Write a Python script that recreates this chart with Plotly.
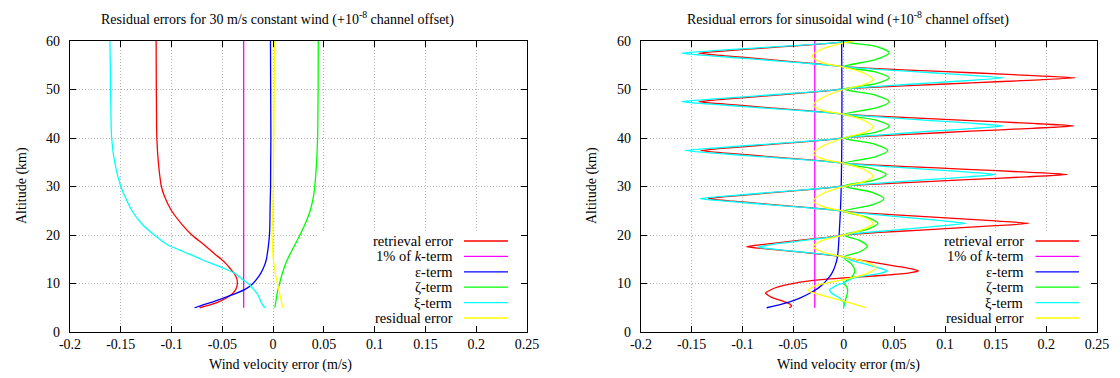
import plotly.graph_objects as go

# ---------------- tick labels ----------------
x_tickvals = [-0.2, -0.15, -0.1, -0.05, 0, 0.05, 0.1, 0.15, 0.2, 0.25]
x_ticktext = ["-0.2", "-0.15", "-0.1", "-0.05", "0", "0.05", "0.1", "0.15", "0.2", "0.25"]
y_tickvals = [0, 10, 20, 30, 40, 50, 60]
y_ticktext = ["0", "10", "20", "30", "40", "50", "60"]

series_names = ["retrieval error", "1% of <i>k</i>-term", "\u03b5-term", "\u03b6-term", "\u03be-term", "residual error"]
series_colors = ["#ff0000", "#ff00ff", "#0000ff", "#00ff00", "#00ffff", "#ffff00"]

# ---------------- left panel: 30 m/s constant wind ----------------
l_alt = [5, 6, 7, 8, 9, 10, 11, 12, 13, 14, 15, 16, 17, 18, 20, 22, 25, 28, 30, 35, 40, 45, 50, 55, 60]
l_retrieval = [-0.0724, -0.056, -0.046, -0.0395, -0.0362, -0.0352, -0.0358, -0.038, -0.042, -0.046, -0.051,
               -0.057, -0.0626, -0.068, -0.080, -0.089, -0.100, -0.107, -0.110, -0.113, -0.1145, -0.1148,
               -0.115, -0.1151, -0.1152]
l_eps = [-0.0774, -0.0626, -0.049, -0.036, -0.026, -0.0198, -0.0158, -0.0125, -0.010, -0.0080, -0.0066,
         -0.0058, -0.0051, -0.0045, -0.0036, -0.0032, -0.003, -0.0027, -0.0025, -0.0024, -0.0022, -0.0023,
         -0.0024, -0.0025, -0.0026]
l_zeta = [0.0017, 0.0025, 0.0032, 0.004, 0.0052, 0.0064, 0.0076, 0.0090, 0.0105, 0.0122, 0.0143, 0.0165,
          0.019, 0.0215, 0.0264, 0.031, 0.0365, 0.0398, 0.041, 0.0428, 0.0438, 0.0441, 0.0443, 0.0444, 0.0445]
l_xi = [-0.0082, -0.0115, -0.0135, -0.016, -0.020, -0.0247, -0.031, -0.037, -0.047, -0.059, -0.071, -0.082,
        -0.093, -0.104, -0.117, -0.128, -0.139, -0.146, -0.150, -0.156, -0.159, -0.1597, -0.160, -0.1603,
        -0.1607]
l_resid = [0.0099, 0.0085, 0.0074, 0.0064, 0.0053, 0.0042, 0.0032, 0.0023, 0.0015, 0.0008, 0.0002, -0.0002,
           -0.0005, -0.0007, -0.001, -0.0008, -0.0005, -0.0002, 0.0, 0.0004, 0.0007, 0.0009, 0.0011, 0.0012,
           0.0013]
l_k_alt = [5, 60]
l_k = [-0.029, -0.029]

# ---------------- right panel: sinusoidal wind ----------------
r_red_alt = [60.0, 59.8, 59.5, 59.1, 58.55, 57.95, 57.5, 56.95, 56.25, 55.55, 55.05, 54.7,
             54.4, 54.0, 53.45, 52.85, 52.4, 51.95, 51.35, 50.8, 50.4, 50.1,
             49.75, 49.3, 48.65, 48.0, 47.5, 46.98, 46.33, 45.68, 45.24, 44.9,
             44.6, 44.2, 43.6, 43.0, 42.5, 42.0, 41.4, 40.75, 40.33, 40.0,
             39.66, 39.22, 38.57, 37.92, 37.4, 36.88, 36.23, 35.58, 35.14, 34.8,
             34.5, 34.1, 33.55, 32.95, 32.5, 32.0, 31.4, 30.8, 30.4, 30.1,
             29.76, 29.32, 28.67, 28.02, 27.5, 26.98, 26.33, 25.68, 25.24, 24.9,
             24.58, 24.15, 23.53, 22.9, 22.4, 21.92, 21.32, 20.72, 20.31, 20.0,
             19.69, 19.28, 18.68, 18.08, 17.6, 17.18, 16.66, 16.13, 15.77, 15.5,
             14.9, 14.2, 13.5, 13.0, 12.6, 12.2, 11.7, 11.3, 10.8, 10.1, 9.07, 8.04, 7.15, 6.46, 5.77, 5.29, 5.0]
r_red = [0.006, 0.0, -0.0143, -0.040, -0.0787, -0.117, -0.143, -0.117, -0.0787, -0.040, -0.0143, 0.0,
         0.0229, 0.0641, 0.126, 0.188, 0.229, 0.188, 0.126, 0.0641, 0.0229, 0.0,
         -0.0143, -0.040, -0.0787, -0.117, -0.143, -0.117, -0.0787, -0.040, -0.0143, 0.0,
         0.0227, 0.0636, 0.125, 0.186, 0.227, 0.186, 0.125, 0.0636, 0.0227, 0.0,
         -0.0141, -0.0395, -0.0776, -0.116, -0.141, -0.116, -0.0776, -0.0395, -0.0141, 0.0,
         0.0221, 0.0619, 0.1216, 0.181, 0.221, 0.181, 0.1216, 0.0619, 0.0221, 0.0,
         -0.0134, -0.0374, -0.0734, -0.1095, -0.1335, -0.1095, -0.0734, -0.0374, -0.0134, 0.0,
         0.0183, 0.0512, 0.1007, 0.150, 0.183, 0.150, 0.1007, 0.0512, 0.0183, 0.0,
         -0.0096, -0.0269, -0.0528, -0.0787, -0.096, -0.0787, -0.0528, -0.0269, -0.0096, 0.0,
         0.013, 0.034, 0.054, 0.067, 0.0738, 0.065, 0.040, 0.012, -0.022, -0.048, -0.068, -0.077, -0.0712,
         -0.0613, -0.0531, -0.0515, -0.0538]

r_xi_alt = [60.0, 59.8, 59.5, 59.1, 58.55, 57.95, 57.5, 56.95, 56.25, 55.55, 55.05, 54.7,
            54.4, 54.0, 53.45, 52.85, 52.4, 51.95, 51.35, 50.8, 50.4, 50.1,
            49.75, 49.3, 48.65, 48.0, 47.5, 46.98, 46.33, 45.68, 45.24, 44.9,
            44.6, 44.2, 43.6, 43.0, 42.5, 42.0, 41.4, 40.75, 40.33, 40.0,
            39.66, 39.22, 38.57, 37.92, 37.4, 36.88, 36.23, 35.58, 35.14, 34.8,
            34.5, 34.1, 33.55, 32.95, 32.5, 32.0, 31.4, 30.8, 30.4, 30.1,
            29.76, 29.32, 28.67, 28.02, 27.5, 26.98, 26.33, 25.68, 25.24, 24.9,
            24.58, 24.15, 23.53, 22.9, 22.4, 21.92, 21.32, 20.72, 20.31, 20.0,
            19.69, 19.28, 18.68, 18.08, 17.5, 17.1, 16.6, 16.1, 15.77, 15.5,
            14.6, 13.8, 13.1, 12.6, 12.1, 11.5, 10.8, 10.1, 9.75, 8.73, 8.04, 7.0, 6.0, 5.0]
r_xi = [0.004, 0.0, -0.016, -0.0448, -0.088, -0.131, -0.160, -0.131, -0.088, -0.0448, -0.016, 0.0,
        0.0158, 0.0442, 0.0869, 0.1296, 0.158, 0.1296, 0.0869, 0.0442, 0.0158, 0.0,
        -0.016, -0.0448, -0.088, -0.131, -0.160, -0.131, -0.088, -0.0448, -0.016, 0.0,
        0.0157, 0.044, 0.0864, 0.1287, 0.157, 0.1287, 0.0864, 0.044, 0.0157, 0.0,
        -0.0157, -0.0438, -0.0861, -0.1283, -0.1565, -0.1283, -0.0861, -0.0438, -0.0157, 0.0,
        0.015, 0.042, 0.0825, 0.123, 0.150, 0.123, 0.0825, 0.042, 0.015, 0.0,
        -0.0142, -0.0397, -0.0779, -0.1162, -0.1417, -0.1162, -0.0779, -0.0397, -0.0142, 0.0,
        0.0121, 0.0338, 0.0664, 0.099, 0.1207, 0.099, 0.0664, 0.0338, 0.0121, 0.0,
        -0.0085, -0.0238, -0.0468, -0.0697, -0.085, -0.0697, -0.0468, -0.0238, -0.0085, 0.0,
        0.010, 0.025, 0.037, 0.043, 0.036, 0.018, 0.006, 0.0, -0.0056, -0.0138, -0.0121, -0.004, 0.0, 0.0]

r_resid_alt = [60.0, 59.6, 58.3, 56.9, 55.6, 54.6, 53.3, 52.0, 51.0, 50.0, 48.2, 46.8, 45.7, 44.9,
               43.5, 42.2, 41.1, 40.0, 38.2, 36.8, 35.7, 34.8, 33.4, 32.1, 31.0, 30.0, 28.4, 27.0,
               25.9, 24.9, 23.6, 22.4, 21.2, 20.0, 18.8, 17.6, 16.5, 15.5, 14.3, 13.2, 12.0, 10.8,
               9.7, 8.6, 8.0, 7.0, 6.0, 5.0]
r_resid = [0.009, 0.0, -0.022, -0.031, -0.022, 0.0, 0.021, 0.029, 0.020, 0.0, -0.022, -0.030, -0.021, 0.0,
           0.021, 0.029, 0.020, 0.0, -0.022, -0.030, -0.021, 0.0, 0.021, 0.029, 0.020, 0.0, -0.022, -0.030,
           -0.021, 0.0, 0.021, 0.029, 0.020, 0.0, -0.022, -0.030, -0.021, 0.0, 0.024, 0.032, 0.022, 0.0,
           -0.025, -0.035, -0.029, -0.011, 0.006, 0.022]

r_zeta_alt = [60.0, 59.8, 58.9, 57.6, 56.2, 54.7, 53.6, 52.4, 51.2, 50.1, 48.8, 47.5, 46.2, 44.9,
              43.7, 42.5, 41.2, 40.0, 38.7, 37.4, 36.1, 34.8, 33.6, 32.5, 31.3, 30.1, 28.8, 27.5,
              26.2, 24.9, 23.6, 22.4, 21.2, 20.0, 18.8, 17.7, 16.6, 15.4, 14.0, 12.6, 11.3, 10.1,
              9.3, 8.5, 7.5, 6.5, 5.0]
r_zeta = [0.003, 0.0, 0.032, 0.045, 0.032, 0.0, 0.032, 0.045, 0.032, 0.0, 0.032, 0.045, 0.032, 0.0,
          0.032, 0.045, 0.032, 0.0, 0.031, 0.0436, 0.031, 0.0, 0.030, 0.042, 0.030, 0.0, 0.028, 0.0397,
          0.028, 0.0, 0.024, 0.0338, 0.024, 0.0, 0.0165, 0.0233, 0.0165, 0.0, 0.0078, 0.011, 0.0078, 0.0,
          0.003, 0.004, 0.003, 0.0015, 0.0]

r_eps_alt = [5, 6, 7, 8, 9, 10, 11, 12, 13, 14, 15, 16, 18, 20, 25, 30, 40, 50, 60]
r_eps = [-0.076, -0.0564, -0.0433, -0.0335, -0.0255, -0.0197, -0.0155, -0.012, -0.0096, -0.0079, -0.0066,
         -0.0058, -0.0050, -0.0045, -0.0032, -0.0024, -0.0018, -0.0017, -0.0020]
r_k_alt = [5, 60]
r_k = [-0.0285, -0.0285]

# ---------------- figure ----------------
W, H = 1120, 378
ML, MR, MT, MB = 70, 23, 41, 46
PW, PH = W - ML - MR, H - MT - MB


def px(x):
    return (x - ML) / PW


def py(y):
    return (H - MB - y) / PH


fig = go.Figure()

left_series = [(l_alt, l_retrieval), (l_k_alt, l_k), (l_alt, l_eps), (l_alt, l_zeta), (l_alt, l_xi), (l_alt, l_resid)]
right_series = [(r_red_alt, r_red), (r_k_alt, r_k), (r_eps_alt, r_eps), (r_zeta_alt, r_zeta),
                (r_xi_alt, r_xi), (r_resid_alt, r_resid)]
right_smooth = [0.5, 0.0, 0.8, 0.8, 0.5, 0.9]

for i, (a, v) in enumerate(left_series):
    fig.add_trace(go.Scatter(x=v, y=a, mode="lines", xaxis="x", yaxis="y", name=series_names[i],
                             line=dict(color=series_colors[i], width=1.3, shape="spline", smoothing=0.8),
                             showlegend=False))
for i, (a, v) in enumerate(right_series):
    fig.add_trace(go.Scatter(x=v, y=a, mode="lines", xaxis="x2", yaxis="y2", name=series_names[i],
                             line=dict(color=series_colors[i], width=1.3,
                                       shape="spline" if right_smooth[i] > 0 else "linear",
                                       smoothing=right_smooth[i] if right_smooth[i] > 0 else 1),
                             showlegend=False))

font = dict(family="Liberation Serif", size=14, color="black")
key_font = dict(family="Liberation Serif", size=14.5, color="black")

axis_common = dict(
    range=[-0.2, 0.25], tickmode="array", tickvals=x_tickvals, ticktext=x_ticktext,
    ticks="inside", ticklen=6, tickwidth=1, tickcolor="black",
    showline=True, linecolor="black", linewidth=1.3, mirror="allticks",
    showgrid=True, gridcolor="#b4b4b4", griddash="1px,2px", gridwidth=1, zeroline=False,
    tickfont=font, ticklabelstandoff=-1,
)
yaxis_common = dict(
    range=[0, 60], tickmode="array", tickvals=y_tickvals, ticktext=y_ticktext,
    ticks="inside", ticklen=6, tickwidth=1, tickcolor="black",
    showline=True, linecolor="black", linewidth=1.3, mirror="allticks",
    showgrid=True, gridcolor="#b4b4b4", griddash="1px,2px", gridwidth=1, zeroline=False,
    tickfont=font, ticklabelstandoff=6,
)

left_dom = [0, px(527)]
right_dom = [px(641), 1.0]

fig.update_layout(
    width=W, height=H,
    margin=dict(l=ML, r=MR, t=MT, b=MB, pad=0),
    paper_bgcolor="white", plot_bgcolor="white",
    font=font, showlegend=False,
    xaxis=dict(domain=left_dom, anchor="y", **axis_common),
    yaxis=dict(domain=[0, 1], anchor="x", **yaxis_common),
    xaxis2=dict(domain=right_dom, anchor="y2", **axis_common),
    yaxis2=dict(domain=[0, 1], anchor="x2", **yaxis_common),
)

shapes = []
# key boxes clear the grid underneath (as in gnuplot)
shapes.append(dict(type="rect", xref="x", yref="y", x0=0.044, x1=0.25, y0=0, y1=20.6,
                   fillcolor="white", line=dict(width=0), layer="between"))
shapes.append(dict(type="rect", xref="x2", yref="y2", x0=0.041, x1=0.25, y0=0, y1=20.6,
                   fillcolor="white", line=dict(width=0), layer="between"))

annotations = []
titles = ["Residual errors for 30 m/s constant wind (+10<sup>-8</sup> channel offset)",
          "Residual errors for sinusoidal wind (+10<sup>-8</sup> channel offset)"]
title_x = [277.5, 848]
xlab_x = [280, 848]
ylab_x = [22, 592]
for k in range(2):
    annotations.append(dict(text=titles[k], x=px(title_x[k]), y=py(18), xref="paper", yref="paper",
                            xanchor="center", yanchor="middle", showarrow=False, font=font))
    annotations.append(dict(text="Wind velocity error (m/s)", x=px(xlab_x[k]), y=py(365), xref="paper",
                            yref="paper", xanchor="center", yanchor="middle", showarrow=False, font=font))
    annotations.append(dict(text="Altitude (km)", x=px(ylab_x[k]), y=py(186), xref="paper", yref="paper",
                            xanchor="center", yanchor="middle", showarrow=False, textangle=-90, font=font))

# manual key, text right-aligned, sample line to the right
row_y = [241, 256.4, 271.8, 287.2, 302.6, 318]
key_text_right = [455, 1025.5]
key_line = [(464, 508), (1035.5, 1079)]
for k in range(2):
    for i in range(6):
        annotations.append(dict(text=series_names[i], x=px(key_text_right[k]), y=py(row_y[i]),
                                xref="paper", yref="paper", xanchor="right", yanchor="middle",
                                showarrow=False, font=key_font))
        shapes.append(dict(type="line", xref="paper", yref="paper",
                           x0=px(key_line[k][0]), x1=px(key_line[k][1]), y0=py(row_y[i]), y1=py(row_y[i]),
                           line=dict(color=series_colors[i], width=1.3), layer="above"))

fig.update_layout(shapes=shapes, annotations=annotations)

fig.write_html("out.html")
